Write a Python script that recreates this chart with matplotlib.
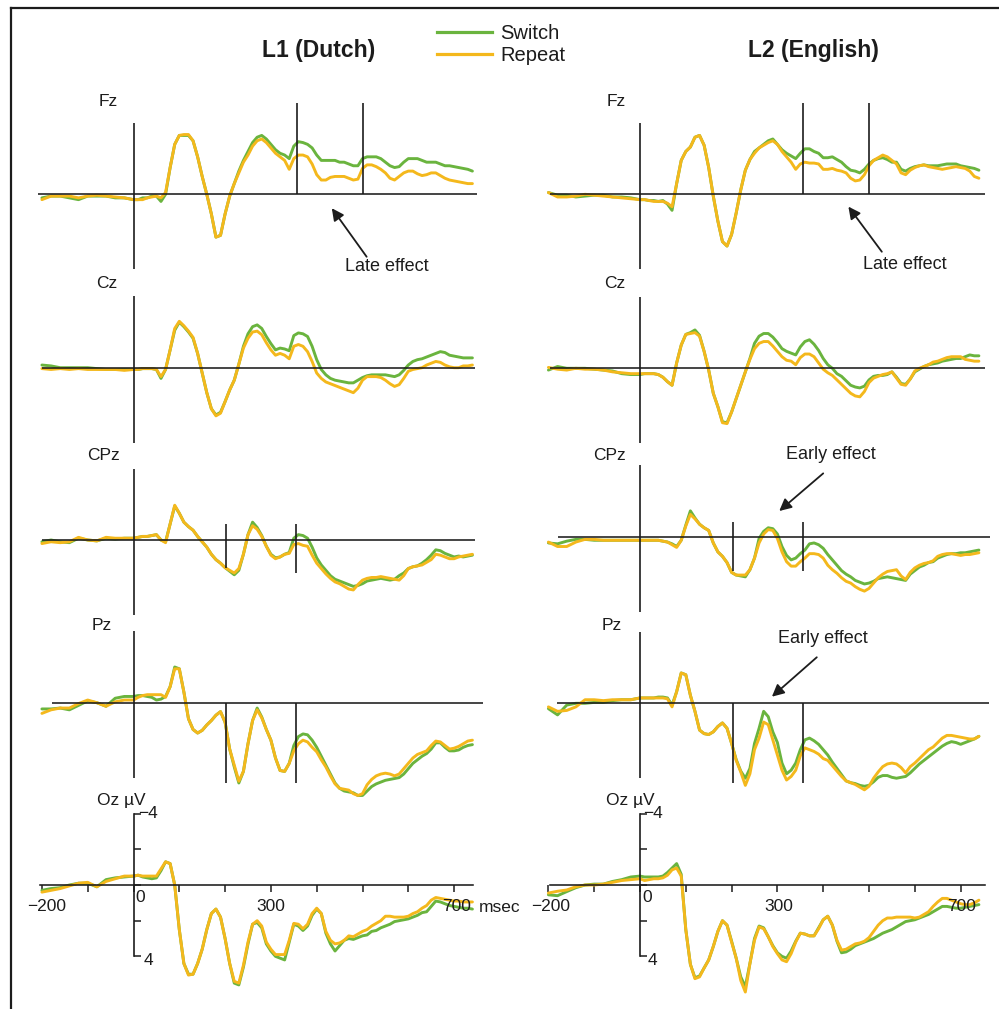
import matplotlib
matplotlib.use("Agg")
import matplotlib.pyplot as plt
from matplotlib.lines import Line2D

plt.rcParams['font.family'] = ['Liberation Sans', 'DejaVu Sans']

W, H = 999, 1009

# ---------------- data ----------------
TIME_MS = [-200, -180, -160, -140, -120, -100, -80, -60, -40, -20] + list(range(0, 741, 10))

CHANNELS = ['Fz', 'Cz', 'CPz', 'Pz', 'Oz']
CHANNEL_LABELS = ['Fz', 'Cz', 'CPz', 'Pz', 'Oz µV']
COLUMN_TITLES = ['L1 (Dutch)', 'L2 (English)']
CONDITIONS = ['Switch', 'Repeat']

# amplitudes in microvolts (negative plotted up)
FZ_L1_SWITCH = [0.2, 0.1, 0.1, 0.2, 0.3, 0.1, 0.1, 0.1, 0.2, 0.2,
    0.3, 0.3, 0.2, 0.2, 0.1, 0.1, 0.4, 0.0, -1.5, -2.8,
    -3.3, -3.3, -3.3, -3.0, -2.1, -1.0, 0.0, 1.1, 2.4, 2.3,
    1.1, 0.1, -0.6, -1.3, -1.9, -2.4, -2.9, -3.2, -3.3, -3.1,
    -2.8, -2.5, -2.3, -2.2, -2.0, -2.7, -2.95, -2.9, -2.8, -2.6,
    -2.2, -1.9, -1.9, -1.9, -1.9, -1.8, -1.8, -1.7, -1.6, -1.6,
    -2.0, -2.1, -2.1, -2.1, -2.0, -1.8, -1.6, -1.5, -1.55, -1.8,
    -2.0, -2.0, -2.0, -1.9, -1.8, -1.8, -1.8, -1.7, -1.6, -1.6,
    -1.55, -1.5, -1.45, -1.4, -1.3]
FZ_L1_REPEAT = [0.3, 0.1, 0.1, 0.1, 0.2, 0.1, 0.05, 0.1, 0.15, 0.2,
    0.3, 0.3, 0.3, 0.2, 0.15, 0.1, 0.2, -0.1, -1.5, -2.8,
    -3.3, -3.35, -3.35, -3.0, -2.1, -1.0, 0.0, 1.1, 2.4, 2.3,
    1.1, 0.1, -0.6, -1.2, -1.8, -2.2, -2.7, -3.0, -3.1, -2.9,
    -2.6, -2.3, -2.1, -1.9, -1.4, -2.0, -2.2, -2.2, -2.1, -1.7,
    -1.1, -0.8, -0.8, -0.95, -1.0, -1.0, -1.0, -0.9, -0.8, -0.85,
    -1.45, -1.65, -1.65, -1.55, -1.4, -1.2, -0.9, -0.8, -1.0, -1.2,
    -1.3, -1.3, -1.15, -1.05, -1.1, -1.2, -1.2, -1.05, -0.9, -0.8,
    -0.75, -0.7, -0.65, -0.6, -0.6]
CZ_L1_SWITCH = [-0.15, -0.1, 0.0, 0.0, 0.0, 0.0, 0.05, 0.1, 0.1, 0.1,
    0.1, 0.1, 0.05, 0.05, 0.05, 0.1, 0.6, 0.1, -1.0, -2.1,
    -2.55, -2.3, -2.0, -1.65, -0.8, 0.3, 1.4, 2.3, 2.65, 2.5,
    1.9, 1.25, 0.7, -0.2, -1.2, -1.9, -2.3, -2.4, -2.2, -1.75,
    -1.35, -1.0, -1.1, -1.05, -0.95, -1.8, -1.95, -1.9, -1.75, -1.2,
    -0.45, 0.1, 0.4, 0.6, 0.7, 0.75, 0.8, 0.85, 0.85, 0.7,
    0.55, 0.45, 0.4, 0.4, 0.4, 0.4, 0.45, 0.5, 0.4, 0.15,
    -0.15, -0.35, -0.45, -0.5, -0.6, -0.7, -0.8, -0.9, -0.85, -0.7,
    -0.65, -0.6, -0.55, -0.55, -0.55]
CZ_L1_REPEAT = [0.05, 0.1, 0.05, 0.1, 0.05, 0.1, 0.1, 0.1, 0.1, 0.15,
    0.1, 0.1, 0.05, 0.05, 0.05, 0.1, 0.5, 0.1, -1.0, -2.2,
    -2.6, -2.35, -2.05, -1.7, -0.8, 0.3, 1.4, 2.3, 2.7, 2.55,
    1.9, 1.25, 0.7, -0.2, -1.1, -1.65, -2.0, -2.05, -1.85, -1.4,
    -1.0, -0.7, -0.8, -0.7, -0.5, -1.2, -1.3, -1.2, -0.9, -0.35,
    0.3, 0.6, 0.8, 0.9, 1.0, 1.1, 1.2, 1.3, 1.4, 1.15,
    0.7, 0.5, 0.5, 0.5, 0.55, 0.7, 0.9, 1.05, 0.95, 0.6,
    0.2, 0.1, 0.05, 0.0, -0.15, -0.25, -0.35, -0.3, -0.15, -0.05,
    0.0, 0.0, -0.1, -0.1, -0.15]
CPZ_L1_SWITCH = [0.1, 0.0, 0.1, 0.15, -0.1, 0.0, 0.05, -0.1, -0.05, -0.1,
    -0.1, -0.15, -0.2, -0.2, -0.25, -0.3, 0.0, 0.1, -0.9, -1.9,
    -1.5, -1.0, -0.75, -0.55, -0.2, 0.1, 0.4, 0.8, 1.1, 1.3,
    1.55, 1.75, 1.95, 1.7, 0.8, -0.3, -1.0, -0.7, -0.25, 0.35,
    0.8, 1.0, 0.95, 0.8, 0.7, -0.1, -0.3, -0.25, -0.1, 0.4,
    1.0, 1.4, 1.7, 2.0, 2.2, 2.3, 2.4, 2.5, 2.6, 2.55,
    2.45, 2.3, 2.25, 2.2, 2.15, 2.2, 2.25, 2.2, 2.0, 1.85,
    1.6, 1.5, 1.45, 1.3, 1.1, 0.85, 0.55, 0.6, 0.75, 0.85,
    0.95, 0.9, 0.95, 0.9, 0.85]
CPZ_L1_REPEAT = [0.2, 0.1, 0.15, 0.1, -0.15, 0.0, 0.05, -0.15, -0.1, -0.1,
    -0.1, -0.15, -0.2, -0.2, -0.25, -0.3, 0.0, 0.15, -0.9, -1.95,
    -1.5, -1.0, -0.75, -0.55, -0.2, 0.1, 0.4, 0.8, 1.1, 1.3,
    1.55, 1.7, 1.85, 1.6, 0.8, -0.3, -0.8, -0.6, -0.2, 0.35,
    0.85, 1.05, 0.95, 0.8, 0.75, 0.25, 0.2, 0.3, 0.35, 0.85,
    1.3, 1.6, 1.9, 2.15, 2.35, 2.45, 2.6, 2.75, 2.8, 2.5,
    2.25, 2.15, 2.1, 2.1, 2.05, 2.1, 2.15, 2.2, 2.25, 2.0,
    1.6, 1.5, 1.45, 1.4, 1.25, 1.1, 0.8, 0.85, 0.95, 1.05,
    1.05, 0.95, 0.9, 0.85, 0.8]
PZ_L1_SWITCH = [0.35, 0.35, 0.3, 0.4, 0.15, -0.1, 0.0, 0.2, -0.25, -0.35,
    -0.35, -0.4, -0.4, -0.35, -0.3, -0.15, -0.2, -0.35, -0.9, -2.0,
    -1.9, -0.6, 0.9, 1.5, 1.7, 1.55, 1.25, 1.0, 0.7, 0.5,
    1.1, 2.6, 3.6, 4.5, 3.85, 2.3, 1.0, 0.3, 0.8, 1.5,
    2.1, 3.1, 3.8, 3.85, 3.4, 2.4, 1.9, 1.75, 1.8, 2.1,
    2.5, 3.0, 3.5, 4.0, 4.5, 4.8, 4.95, 5.0, 5.05, 5.2,
    5.2, 4.95, 4.7, 4.55, 4.45, 4.35, 4.3, 4.25, 4.2, 4.0,
    3.7, 3.4, 3.2, 3.0, 2.85, 2.6, 2.25, 2.25, 2.5, 2.7,
    2.7, 2.65, 2.5, 2.4, 2.35]
PZ_L1_REPEAT = [0.6, 0.4, 0.3, 0.3, 0.05, -0.15, 0.0, 0.2, -0.05, -0.15,
    -0.15, -0.3, -0.4, -0.45, -0.45, -0.45, -0.45, -0.3, -0.9, -1.9,
    -1.9, -0.6, 0.9, 1.5, 1.7, 1.55, 1.25, 1.0, 0.7, 0.5,
    1.1, 2.6, 3.5, 4.4, 3.85, 2.3, 1.0, 0.4, 0.85, 1.5,
    2.1, 3.1, 3.8, 3.85, 3.4, 2.7, 2.3, 2.1, 2.2, 2.5,
    2.75, 3.2, 3.6, 4.1, 4.55, 4.8, 4.85, 4.9, 5.1, 5.2,
    5.1, 4.6, 4.3, 4.1, 4.0, 3.95, 4.0, 4.1, 4.0, 3.7,
    3.4, 3.1, 2.9, 2.8, 2.7, 2.4, 2.15, 2.2, 2.4, 2.6,
    2.55, 2.45, 2.3, 2.15, 2.1]
OZ_L1_SWITCH = [0.3, 0.2, 0.15, 0.0, -0.1, -0.1, 0.1, -0.3, -0.4, -0.45,
    -0.5, -0.55, -0.45, -0.4, -0.35, -0.4, -0.8, -1.3, -1.2, 0.0,
    2.5, 4.4, 5.0, 5.0, 4.4, 3.6, 2.5, 1.6, 1.35, 1.8,
    3.0, 4.4, 5.5, 5.6, 4.6, 3.3, 2.2, 2.1, 2.4, 3.3,
    3.7, 4.0, 4.1, 4.2, 3.2, 2.2, 2.3, 2.55, 2.3, 1.7,
    1.35, 1.6, 2.7, 3.3, 3.7, 3.4, 3.1, 3.0, 3.05, 2.95,
    2.85, 2.8, 2.6, 2.55, 2.4, 2.3, 2.2, 2.05, 2.0, 1.95,
    1.9, 1.8, 1.7, 1.55, 1.5, 1.2, 0.9, 0.95, 1.05, 1.15,
    1.2, 1.25, 1.3, 1.3, 1.35]
OZ_L1_REPEAT = [0.4, 0.3, 0.2, 0.05, -0.1, -0.15, 0.1, -0.2, -0.35, -0.5,
    -0.5, -0.55, -0.5, -0.5, -0.5, -0.5, -0.9, -1.3, -1.2, 0.0,
    2.5, 4.4, 5.05, 5.0, 4.4, 3.6, 2.5, 1.6, 1.35, 1.8,
    3.0, 4.4, 5.4, 5.5, 4.5, 3.2, 2.2, 2.0, 2.3, 3.2,
    3.6, 3.9, 3.9, 3.9, 3.1, 2.15, 2.2, 2.45, 2.2, 1.6,
    1.3, 1.6, 2.6, 3.1, 3.3, 3.25, 3.1, 2.85, 2.9, 2.75,
    2.6, 2.5, 2.3, 2.15, 2.0, 1.75, 1.75, 1.8, 1.8, 1.8,
    1.75, 1.6, 1.5, 1.3, 1.15, 0.85, 0.7, 0.75, 0.8, 0.85,
    0.9, 0.9, 0.95, 0.95, 0.95]

FZ_L2_SWITCH = [-0.1, 0.05, 0.05, 0.15, 0.1, 0.05, 0.05, 0.15, 0.15, 0.2,
    0.3, 0.3, 0.35, 0.35, 0.4, 0.35, 0.55, 0.9, -0.6, -1.9,
    -2.4, -2.65, -3.2, -3.3, -2.75, -1.5, 0.1, 1.5, 2.65, 2.9,
    2.25, 1.05, -0.25, -1.35, -1.95, -2.4, -2.6, -2.8, -3.0, -3.1,
    -2.8, -2.5, -2.3, -2.15, -2.0, -2.3, -2.55, -2.55, -2.4, -2.3,
    -2.05, -2.05, -2.1, -1.95, -1.8, -1.55, -1.35, -1.3, -1.2, -1.4,
    -1.7, -1.9, -2.0, -2.05, -1.95, -1.8, -1.8, -1.4, -1.3, -1.45,
    -1.55, -1.6, -1.65, -1.6, -1.6, -1.6, -1.65, -1.7, -1.7, -1.7,
    -1.6, -1.55, -1.5, -1.45, -1.35]
FZ_L2_REPEAT = [-0.1, 0.15, 0.15, 0.1, 0.0, 0.05, 0.1, 0.15, 0.2, 0.25,
    0.3, 0.3, 0.35, 0.4, 0.4, 0.4, 0.5, 0.7, -0.6, -1.9,
    -2.4, -2.65, -3.2, -3.3, -2.75, -1.5, 0.1, 1.5, 2.65, 2.9,
    2.25, 1.05, -0.25, -1.35, -1.95, -2.3, -2.6, -2.75, -2.9, -3.0,
    -2.8, -2.4, -2.1, -1.8, -1.4, -1.7, -1.8, -1.75, -1.75, -1.7,
    -1.4, -1.4, -1.45, -1.35, -1.3, -1.2, -0.9, -0.75, -0.8, -1.1,
    -1.6, -1.9, -2.05, -2.2, -2.1, -1.9, -1.7, -1.2, -1.1, -1.35,
    -1.5, -1.6, -1.65, -1.55, -1.5, -1.45, -1.4, -1.45, -1.5, -1.55,
    -1.5, -1.45, -1.3, -1.0, -0.9]
CZ_L2_SWITCH = [0.1, -0.1, 0.0, 0.0, 0.0, 0.05, 0.1, 0.15, 0.3, 0.35,
    0.35, 0.3, 0.3, 0.3, 0.35, 0.5, 0.75, 0.95, -0.3, -1.3,
    -1.9, -2.0, -2.15, -1.85, -0.95, 0.1, 1.4, 2.15, 3.0, 3.05,
    2.45, 1.7, 0.95, 0.2, -0.55, -1.4, -1.8, -1.95, -1.95, -1.75,
    -1.45, -1.1, -0.95, -0.85, -0.75, -1.2, -1.5, -1.6, -1.35, -1.0,
    -0.55, -0.2, 0.0, 0.3, 0.45, 0.7, 0.95, 1.05, 1.1, 1.0,
    0.65, 0.45, 0.4, 0.4, 0.35, 0.2, 0.5, 0.85, 0.9, 0.6,
    0.2, 0.05, -0.1, -0.2, -0.25, -0.3, -0.4, -0.45, -0.5, -0.55,
    -0.55, -0.65, -0.75, -0.7, -0.7]
CZ_L2_REPEAT = [-0.05, 0.05, 0.1, 0.0, 0.05, 0.05, 0.1, 0.2, 0.25, 0.3,
    0.3, 0.3, 0.3, 0.3, 0.35, 0.5, 0.75, 0.95, -0.3, -1.3,
    -1.9, -1.95, -2.0, -1.8, -0.95, 0.1, 1.4, 2.15, 3.05, 3.1,
    2.45, 1.7, 0.95, 0.2, -0.5, -1.1, -1.4, -1.5, -1.5, -1.25,
    -0.95, -0.65, -0.45, -0.4, -0.2, -0.6, -0.8, -0.8, -0.65, -0.3,
    0.05, 0.25, 0.4, 0.65, 0.9, 1.15, 1.4, 1.55, 1.6, 1.3,
    0.8, 0.55, 0.45, 0.35, 0.3, 0.2, 0.55, 0.9, 0.95, 0.6,
    0.15, 0.0, -0.1, -0.2, -0.35, -0.4, -0.5, -0.6, -0.65, -0.65,
    -0.65, -0.5, -0.45, -0.4, -0.4]
CPZ_L2_SWITCH = [0.35, 0.4, 0.25, 0.15, 0.15, 0.2, 0.2, 0.2, 0.2, 0.2,
    0.2, 0.2, 0.2, 0.2, 0.2, 0.25, 0.3, 0.4, 0.55, 0.2,
    -0.65, -1.45, -1.05, -0.7, -0.5, -0.35, 0.35, 0.85, 1.1, 1.45,
    2.0, 2.15, 2.2, 2.25, 1.85, 1.2, 0.1, -0.3, -0.5, -0.45,
    -0.15, 0.55, 1.05, 1.3, 1.2, 0.95, 0.75, 0.4, 0.35, 0.45,
    0.65, 1.0, 1.3, 1.6, 1.9, 2.1, 2.25, 2.45, 2.55, 2.65,
    2.6, 2.5, 2.35, 2.3, 2.25, 2.3, 2.35, 2.4, 2.45, 2.1,
    1.9, 1.7, 1.6, 1.45, 1.4, 1.2, 1.1, 1.0, 0.95, 0.95,
    0.9, 0.9, 0.85, 0.8, 0.75]
CPZ_L2_REPEAT = [0.3, 0.55, 0.55, 0.3, 0.15, 0.15, 0.2, 0.2, 0.2, 0.2,
    0.2, 0.2, 0.2, 0.2, 0.2, 0.25, 0.3, 0.45, 0.6, 0.2,
    -0.6, -1.25, -1.0, -0.7, -0.5, -0.35, 0.35, 0.85, 1.1, 1.45,
    2.0, 2.15, 2.15, 2.15, 1.85, 1.2, 0.35, -0.15, -0.4, -0.35,
    0.1, 0.85, 1.4, 1.65, 1.65, 1.4, 1.2, 0.95, 0.95, 1.0,
    1.2, 1.6, 1.85, 2.05, 2.3, 2.5, 2.6, 2.8, 2.95, 3.05,
    2.9, 2.6, 2.3, 2.1, 1.95, 1.9, 1.85, 2.2, 2.4, 2.0,
    1.75, 1.6, 1.5, 1.45, 1.35, 1.1, 1.0, 0.95, 0.95, 1.0,
    1.05, 1.0, 1.0, 0.95, 0.9]
PZ_L2_SWITCH = [0.3, 0.65, 0.1, 0.0, 0.0, -0.05, -0.05, -0.15, -0.2, -0.2,
    -0.3, -0.3, -0.3, -0.3, -0.35, -0.35, -0.3, 0.1, -0.65, -1.7,
    -1.6, -0.45, 0.45, 1.5, 1.7, 1.75, 1.6, 1.3, 1.1, 1.4,
    2.25, 3.15, 3.8, 4.2, 3.65, 2.25, 1.4, 0.45, 0.75, 1.6,
    2.2, 3.35, 3.95, 3.75, 3.35, 2.6, 2.05, 1.95, 2.1, 2.3,
    2.6, 2.9, 3.3, 3.65, 4.0, 4.35, 4.45, 4.5, 4.6, 4.65,
    4.6, 4.4, 4.15, 4.05, 4.05, 4.15, 4.2, 4.15, 4.1, 3.9,
    3.65, 3.4, 3.2, 3.0, 2.8, 2.6, 2.4, 2.25, 2.15, 2.2,
    2.3, 2.2, 2.1, 2.0, 1.85]
PZ_L2_REPEAT = [0.2, 0.45, 0.4, 0.2, -0.2, -0.2, -0.15, -0.2, -0.2, -0.2,
    -0.3, -0.3, -0.3, -0.3, -0.3, -0.3, -0.25, 0.2, -0.65, -1.7,
    -1.6, -0.45, 0.45, 1.5, 1.7, 1.75, 1.6, 1.3, 1.1, 1.4,
    2.25, 3.2, 3.85, 4.6, 3.95, 2.6, 1.95, 1.05, 1.2, 2.05,
    2.9, 3.75, 4.3, 4.1, 3.75, 2.95, 2.5, 2.6, 2.7, 2.85,
    3.1, 3.2, 3.5, 3.8, 4.1, 4.35, 4.45, 4.55, 4.7, 4.85,
    4.65, 4.2, 3.85, 3.55, 3.4, 3.35, 3.4, 3.6, 3.9, 3.55,
    3.35, 3.1, 2.85, 2.6, 2.45, 2.2, 1.95, 1.8, 1.8, 1.85,
    1.9, 1.95, 2.0, 2.0, 1.85]
OZ_L2_SWITCH = [0.55, 0.6, 0.37, 0.15, 0.0, -0.05, -0.05, -0.2, -0.3, -0.45,
    -0.5, -0.45, -0.45, -0.45, -0.45, -0.5, -0.7, -0.95, -1.2, -0.6,
    2.5, 4.45, 5.2, 5.1, 4.65, 4.2, 3.45, 2.6, 2.0, 2.25,
    3.15, 4.1, 5.15, 5.7, 4.4, 3.0, 2.3, 2.4, 2.9, 3.4,
    3.8, 4.0, 4.1, 3.7, 3.15, 2.7, 2.75, 2.85, 2.85, 2.4,
    1.95, 1.75, 2.25, 3.15, 3.8, 3.75, 3.6, 3.4, 3.3, 3.2,
    3.1, 3.0, 2.85, 2.7, 2.6, 2.5, 2.35, 2.2, 2.05, 2.0,
    1.95, 1.85, 1.75, 1.65, 1.5, 1.35, 1.2, 1.2, 1.25, 1.3,
    1.3, 1.25, 1.2, 1.15, 1.1]
OZ_L2_REPEAT = [0.45, 0.35, 0.28, 0.1, 0.0, 0.0, -0.05, -0.15, -0.25, -0.3,
    -0.35, -0.25, -0.3, -0.35, -0.35, -0.4, -0.55, -0.85, -0.95, -0.5,
    2.5, 4.45, 5.25, 5.15, 4.65, 4.2, 3.45, 2.6, 2.0, 2.25,
    3.2, 4.1, 5.35, 6.0, 4.4, 3.1, 2.35, 2.45, 2.9, 3.45,
    3.85, 4.2, 4.3, 3.85, 3.2, 2.7, 2.75, 2.85, 2.85, 2.45,
    1.95, 1.75, 2.25, 3.1, 3.65, 3.6, 3.45, 3.3, 3.25, 3.15,
    2.95, 2.6, 2.25, 2.0, 1.85, 1.85, 1.8, 1.8, 1.8, 1.8,
    1.85, 1.8, 1.65, 1.5, 1.2, 0.95, 0.75, 0.75, 0.85, 0.95,
    1.05, 1.1, 1.1, 1.0, 0.85]

SWITCH = [[FZ_L1_SWITCH, CZ_L1_SWITCH, CPZ_L1_SWITCH, PZ_L1_SWITCH, OZ_L1_SWITCH],
          [FZ_L2_SWITCH, CZ_L2_SWITCH, CPZ_L2_SWITCH, PZ_L2_SWITCH, OZ_L2_SWITCH]]
REPEAT = [[FZ_L1_REPEAT, CZ_L1_REPEAT, CPZ_L1_REPEAT, PZ_L1_REPEAT, OZ_L1_REPEAT],
          [FZ_L2_REPEAT, CZ_L2_REPEAT, CPZ_L2_REPEAT, PZ_L2_REPEAT, OZ_L2_REPEAT]]

EARLY_WINDOW_MS = [202, 355]
LATE_WINDOW_MS = [356, 501]
OZ_XTICKS = [-200, -100, 0, 100, 200, 300, 400, 500, 600, 700]
OZ_XTICK_LABELS = ['−200', '0', '300', '700']
OZ_YTICKS = [-4, -2, 0, 2, 4]
OZ_YTICK_LABELS = ['−4', '4']

# ---------------- layout / style ----------------
GREEN = '#6ab43e'
ORANGE = '#f4b81c'
INK = '#1c1c1c'
PX_PER_MS = 0.458
PX_PER_UV = 17.84
COL_ZERO_PX = [133.5, 640.0]
BASELINE_PX = [[194.3, 367.7, 540.0, 702.7, 885.0],
               [194.3, 368.3, 536.7, 703.3, 885.0]]
BASE_EXTENT_MS = [[(-208, 750), (-200, 745), (-200, 745), (-179, 763), (-204, 741)],
                  [(-196, 753), (-196, 753), (-179, 764), (-182, 763), (-196, 753)]]

fig = plt.figure(figsize=(W / 100, H / 100), dpi=100)


def fxy(x, y):
    return x / W, 1 - y / H


def make_axes(x0, base):
    tmin, tmax = -240, 790
    vmin, vmax = -7.0, 7.0
    left = x0 + tmin * PX_PER_MS
    width = (tmax - tmin) * PX_PER_MS
    top = base + vmin * PX_PER_UV
    height = (vmax - vmin) * PX_PER_UV
    ax = fig.add_axes([left / W, 1 - (top + height) / H, width / W, height / H])
    ax.set_xlim(tmin, tmax)
    ax.set_ylim(vmax, vmin)  # negative up
    ax.patch.set_visible(False)
    for s in ax.spines.values():
        s.set_visible(False)
    ax.set_xticks([])
    ax.set_yticks([])
    return ax


# marker line extents (µV) per panel: (row index -> list of (lo, hi) for the two lines)
MARKER_EXTENTS = {
    (0, 0): ('late', [(-5.1, 0.0), (-5.1, 0.0)]),
    (1, 0): ('late', [(-5.1, 0.0), (-5.1, 0.0)]),
    (0, 2): ('early', [(-0.9, 1.55), (-0.9, 1.85)]),
    (1, 2): ('early', [(-0.8, 1.9), (-0.8, 1.9)]),
    (0, 3): ('early', [(0.0, 4.5), (0.0, 4.5)]),
    (1, 3): ('early', [(0.0, 4.45), (0.0, 4.45)]),
}

# annotations in panel data coords: (col,row): (text, text_xy, tail_xy, tip_xy)
ANNOTATIONS = {
    (0, 0): ('Late effect', (554, 4.06), (509, 3.5), (433, 0.78)),
    (1, 0): ('Late effect', (579, 3.91), (528, 3.22), (455, 0.69)),
    (1, 2): ('Early effect', (416, -4.58), (400, -3.55), (304, -1.44)),
    (1, 3): ('Early effect', (400, -3.64), (386, -2.58), (288, -0.37)),
}

CH_LABEL_PX = [[(108, 101.7), (106.7, 283), (103.3, 455), (101.7, 626), (121.5, 800)],
               [(616.7, 101.7), (615, 283), (610, 455), (611.7, 626), (630, 800)]]

for ci in range(2):
    x0 = COL_ZERO_PX[ci]
    for ri, ch in enumerate(CHANNELS):
        base = BASELINE_PX[ci][ri]
        ax = make_axes(x0, base)
        ax.plot(TIME_MS, SWITCH[ci][ri], color=GREEN, lw=2.1, zorder=3,
                solid_joinstyle='round', solid_capstyle='round')
        ax.plot(TIME_MS, REPEAT[ci][ri], color=ORANGE, lw=2.1, zorder=4,
                solid_joinstyle='round', solid_capstyle='round')
        t0, t1 = BASE_EXTENT_MS[ci][ri]
        if ch != 'Oz':
            ax.hlines(0, t0, t1, color=INK, lw=1.15, zorder=6)
            ax.vlines(0, -4.0, 4.2, color=INK, lw=1.2, zorder=6)
        else:
            ax.spines['bottom'].set_visible(True)
            ax.spines['bottom'].set_position(('data', 0))
            ax.spines['bottom'].set_bounds(t0, t1)
            ax.spines['bottom'].set_color(INK)
            ax.spines['bottom'].set_linewidth(1.15)
            ax.spines['bottom'].set_zorder(6)
            ax.spines['right'].set_visible(True)
            ax.spines['right'].set_position(('data', 0))
            ax.spines['right'].set_bounds(-4, 4)
            ax.spines['right'].set_color(INK)
            ax.spines['right'].set_linewidth(1.2)
            ax.spines['right'].set_zorder(6)
            ax.xaxis.set_ticks_position('bottom')
            ax.yaxis.set_ticks_position('right')
            ax.set_xticks(OZ_XTICKS)
            ax.set_yticks(OZ_YTICKS)
            ax.tick_params(axis='x', direction='out', length=5, width=1.1,
                           color=INK, labelbottom=False)
            ax.tick_params(axis='y', direction='out', length=5, width=1.1,
                           color=INK, labelright=False, labelleft=False)
        if (ci, ri) in MARKER_EXTENTS:
            kind, ext = MARKER_EXTENTS[(ci, ri)]
            times = EARLY_WINDOW_MS if kind == 'early' else LATE_WINDOW_MS
            for t, (lo, hi) in zip(times, ext):
                ax.vlines(t, lo, hi, color=INK, lw=1.2, zorder=6)
        if (ci, ri) in ANNOTATIONS:
            txt, txy, tail, tip = ANNOTATIONS[(ci, ri)]
            ax.annotate('', xy=tip, xytext=tail, zorder=7,
                        arrowprops=dict(arrowstyle='-|>,head_length=0.6,head_width=0.3',
                                        color=INK, lw=1.3, mutation_scale=12,
                                        shrinkA=0, shrinkB=0))
            ax.text(txy[0], txy[1], txt, ha='center', va='center',
                    fontsize=13, color=INK, zorder=7)
        lx, ly = CH_LABEL_PX[ci][ri]
        fig.text(*fxy(lx, ly), CHANNEL_LABELS[ri], ha='center', va='center',
                 fontsize=12.5, color=INK)

# Oz tick labels
XT_LABEL_PX = [[(46.7, 906.7), (140, 898), (270.7, 906.7), (456.7, 906.7)],
               [(551, 906.7), (646.7, 898), (778.3, 906.7), (961.7, 906.7)]]
YT_LABEL_PX = [[(138, 814), (144, 960.5)],
               [(643.5, 814), (648, 960.5)]]
for ci in range(2):
    for lab, (x, y) in zip(OZ_XTICK_LABELS, XT_LABEL_PX[ci]):
        fig.text(*fxy(x, y), lab, ha='center', va='center', fontsize=12.5, color=INK)
    for lab, (x, y) in zip(OZ_YTICK_LABELS, YT_LABEL_PX[ci]):
        fig.text(*fxy(x, y), lab, ha='left', va='center', fontsize=12.5, color=INK)
fig.text(*fxy(479, 908), 'msec', ha='left', va='center', fontsize=12.5, color=INK)

# titles
TITLE_PX = [(319, 50), (813.8, 50)]
for title, (x, y) in zip(COLUMN_TITLES, TITLE_PX):
    fig.text(*fxy(x, y), title, ha='center', va='center', fontsize=16.5,
             fontweight='bold', color=INK)

# legend
LEGEND_Y_PX = [32.3, 54.3]
for cond, color, y in zip(CONDITIONS, [GREEN, ORANGE], LEGEND_Y_PX):
    fig.add_artist(Line2D([436.7 / W, 491.7 / W], [1 - y / H, 1 - y / H],
                          color=color, lw=2.3, transform=fig.transFigure))
    fig.text(*fxy(500, y + 1), cond, ha='left', va='center', fontsize=14.5, color=INK)

# frame (top and left edges of the surrounding box)
fig.add_artist(Line2D([11 / W, 1.0], [1 - 7.5 / H, 1 - 7.5 / H], color=INK, lw=1.6,
                      transform=fig.transFigure))
fig.add_artist(Line2D([11 / W, 11 / W], [1 - 7.5 / H, 0.0], color=INK, lw=1.6,
                      transform=fig.transFigure))

fig.savefig('out.png', dpi=100)
